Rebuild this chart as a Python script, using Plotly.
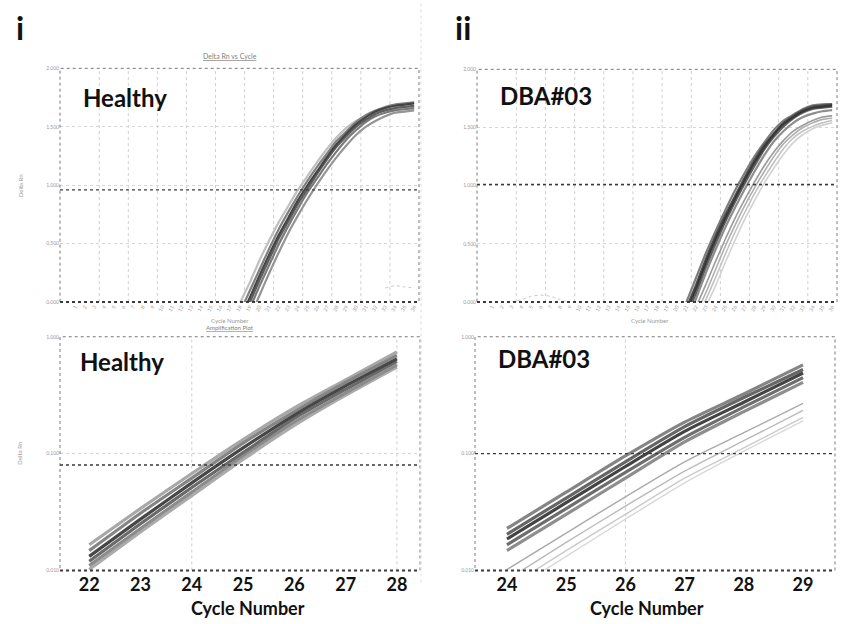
import plotly.graph_objects as go

W, H = 846, 624
FONT = "Lato"

# ---------------- top row: linear Delta Rn vs cycle ----------------
cycle_ticks = list(range(1, 37))

# Healthy, replicate wells (cycles 17..36)
healthy_lin_cycles = list(range(17, 37))
healthy_lin_1 = [-0.18, -0.01, 0.16, 0.35, 0.52, 0.68, 0.82, 0.96, 1.08, 1.20, 1.31, 1.41, 1.49, 1.55, 1.59, 1.62, 1.64, 1.65, 1.66, 1.66]
healthy_lin_2 = [-0.25, -0.09, 0.09, 0.27, 0.45, 0.62, 0.77, 0.91, 1.04, 1.16, 1.27, 1.38, 1.46, 1.54, 1.60, 1.64, 1.67, 1.69, 1.70, 1.71]
healthy_lin_3 = [-0.30, -0.14, 0.03, 0.22, 0.40, 0.57, 0.72, 0.87, 1.00, 1.12, 1.24, 1.35, 1.44, 1.52, 1.58, 1.63, 1.66, 1.68, 1.69, 1.70]
healthy_lin_4 = [-0.33, -0.17, -0.01, 0.18, 0.36, 0.54, 0.69, 0.84, 0.97, 1.10, 1.22, 1.33, 1.42, 1.50, 1.56, 1.61, 1.64, 1.66, 1.67, 1.68]
healthy_lin_5 = [-0.38, -0.22, -0.06, 0.13, 0.31, 0.49, 0.65, 0.80, 0.94, 1.06, 1.18, 1.29, 1.39, 1.47, 1.54, 1.59, 1.62, 1.64, 1.65, 1.66]
healthy_lin_6 = [-0.45, -0.30, -0.14, 0.05, 0.24, 0.42, 0.59, 0.74, 0.88, 1.01, 1.13, 1.24, 1.34, 1.43, 1.50, 1.55, 1.59, 1.62, 1.63, 1.64]
healthy_ntc_cycles = [33, 34, 35, 36]
healthy_ntc = [0.12, 0.14, 0.13, 0.12]
healthy_lin_threshold = 0.96

# DBA#03, main group (cycles 19..36) and late group (cycles 20..36)
dba_main_cycles = list(range(19, 37))
dba_main_1 = [-0.38, -0.19, 0.00, 0.21, 0.42, 0.61, 0.79, 0.96, 1.11, 1.25, 1.37, 1.48, 1.56, 1.61, 1.66, 1.69, 1.70, 1.70]
dba_main_2 = [-0.42, -0.24, -0.05, 0.15, 0.37, 0.57, 0.75, 0.91, 1.07, 1.22, 1.35, 1.45, 1.54, 1.60, 1.65, 1.68, 1.69, 1.70]
dba_main_3 = [-0.45, -0.27, -0.08, 0.12, 0.34, 0.54, 0.72, 0.89, 1.05, 1.20, 1.33, 1.44, 1.53, 1.59, 1.64, 1.67, 1.68, 1.69]
dba_main_4 = [-0.49, -0.31, -0.12, 0.08, 0.30, 0.50, 0.69, 0.86, 1.02, 1.17, 1.31, 1.42, 1.51, 1.58, 1.63, 1.66, 1.67, 1.68]
dba_main_5 = [-0.53, -0.35, -0.17, 0.03, 0.25, 0.45, 0.64, 0.81, 0.97, 1.12, 1.26, 1.38, 1.47, 1.54, 1.59, 1.62, 1.64, 1.65]
dba_late_cycles = list(range(20, 37))
dba_late_1 = [-0.39, -0.22, -0.04, 0.15, 0.35, 0.54, 0.72, 0.88, 1.03, 1.17, 1.29, 1.39, 1.47, 1.52, 1.56, 1.59, 1.60]
dba_late_2 = [-0.45, -0.28, -0.10, 0.08, 0.28, 0.48, 0.66, 0.83, 0.98, 1.12, 1.25, 1.36, 1.44, 1.50, 1.54, 1.57, 1.58]
dba_late_3 = [-0.51, -0.34, -0.16, 0.02, 0.21, 0.41, 0.60, 0.77, 0.93, 1.07, 1.20, 1.32, 1.41, 1.47, 1.51, 1.54, 1.56]
dba_late_4 = [-0.57, -0.40, -0.22, -0.04, 0.14, 0.34, 0.53, 0.71, 0.87, 1.02, 1.15, 1.27, 1.37, 1.44, 1.49, 1.52, 1.54]
dba_ntc_cycles = [3, 4, 5, 6, 7, 8, 9]
dba_ntc = [0.00, 0.02, 0.05, 0.06, 0.05, 0.02, 0.00]
dba_lin_threshold = 1.01

lin_grid_cycles = [3.5, 6.5, 9.5, 12.5, 15.5, 18.5, 21.5, 24.5, 27.5, 30.5, 33.5]

# ---------------- bottom row: log Delta Rn, zoomed on Ct ----------------
healthy_log_cycles = [22, 23, 24, 25, 26, 27, 28]
healthy_log_1 = [0.0166, 0.0339, 0.0676, 0.132, 0.246, 0.427, 0.741]
healthy_log_2 = [0.0148, 0.0309, 0.0617, 0.123, 0.229, 0.407, 0.692]
healthy_log_3 = [0.0132, 0.0275, 0.0562, 0.112, 0.214, 0.380, 0.646]
healthy_log_4 = [0.0120, 0.0251, 0.0513, 0.102, 0.200, 0.355, 0.617]
healthy_log_5 = [0.0110, 0.0229, 0.0468, 0.0955, 0.186, 0.331, 0.575]
healthy_log_6 = [0.0102, 0.0214, 0.0437, 0.0891, 0.174, 0.316, 0.550]
healthy_log_threshold = 0.080
healthy_log_grid = [24, 28]

dba_log_cycles = [24, 25, 26, 27, 28, 29]
dba_log_main_1 = [0.0229, 0.0468, 0.0955, 0.186, 0.324, 0.575]
dba_log_main_2 = [0.0204, 0.0417, 0.0851, 0.170, 0.302, 0.525]
dba_log_main_3 = [0.0186, 0.0380, 0.0776, 0.155, 0.275, 0.490]
dba_log_main_4 = [0.0166, 0.0339, 0.0692, 0.138, 0.251, 0.447]
dba_log_main_5 = [0.0148, 0.0302, 0.0617, 0.126, 0.229, 0.407]
dba_log_late_1 = [0.0102, 0.0209, 0.0427, 0.0851, 0.151, 0.269]
dba_log_late_2 = [0.00832, 0.0174, 0.0355, 0.0708, 0.129, 0.234]
dba_log_late_3 = [0.00708, 0.0148, 0.0302, 0.0617, 0.112, 0.204]
dba_log_late_4 = [0.00631, 0.0132, 0.0275, 0.0562, 0.105, 0.191]
dba_log_threshold = 0.10
dba_log_grid = [26]


def px(x):
    return x / W


def py(y):
    return 1 - y / H


fig = go.Figure()


def add_lines(xs, series, colors, xa, ya, width=1.3, dash="solid", shape="spline"):
    for ys, c in zip(series, colors):
        fig.add_trace(go.Scatter(
            x=xs, y=ys, mode="lines", xaxis=xa, yaxis=ya,
            line=dict(color=c, width=width, dash=dash, shape=shape, smoothing=0.6),
            hoverinfo="skip", showlegend=False,
        ))


# top-left: Healthy
add_lines(healthy_lin_cycles,
          [healthy_lin_1, healthy_lin_6, healthy_lin_5, healthy_lin_2, healthy_lin_4, healthy_lin_3],
          ["#c0c0c0", "#959595", "#7a7a7a", "#808080", "#5e5e5e", "#444444"], "x", "y", width=2.2)
add_lines(healthy_ntc_cycles, [healthy_ntc], ["#c8c8c8"], "x", "y", width=1, dash="dot")

# top-right: DBA#03
add_lines(dba_late_cycles, [dba_late_4, dba_late_3, dba_late_2, dba_late_1],
          ["#d2d2d2", "#c2c2c2", "#afafaf", "#9c9c9c"], "x2", "y2", width=1.6)
add_lines(dba_main_cycles, [dba_main_5, dba_main_1, dba_main_4, dba_main_2, dba_main_3],
          ["#8e8e8e", "#7e7e7e", "#606060", "#525252", "#383838"], "x2", "y2", width=2.2)
add_lines(dba_ntc_cycles, [dba_ntc], ["#c8c8c8"], "x2", "y2", width=1, dash="dot")

# bottom-left: Healthy, log scale
add_lines(healthy_log_cycles,
          [healthy_log_1, healthy_log_6, healthy_log_2, healthy_log_5, healthy_log_4, healthy_log_3],
          ["#a8a8a8", "#ababab", "#858585", "#8c8c8c", "#6a6a6a", "#474747"], "x3", "y3", width=3.2)

# bottom-right: DBA#03, log scale
add_lines(dba_log_cycles, [dba_log_late_4, dba_log_late_3, dba_log_late_2, dba_log_late_1],
          ["#d8d8d8", "#cacaca", "#bababa", "#aaaaaa"], "x4", "y4", width=1.4)
add_lines(dba_log_cycles, [dba_log_main_1, dba_log_main_5, dba_log_main_2, dba_log_main_4, dba_log_main_3],
          ["#858585", "#8e8e8e", "#666666", "#6e6e6e", "#444444"], "x4", "y4", width=3.2)

tiny = dict(family=FONT, size=5, color="#9a9a9a")
big_tick = dict(family=FONT, size=18, color="#111111", weight="bold")

grid_style = dict(showgrid=True, gridcolor="#d6d6d6", griddash="dot", gridwidth=1)
common_x = dict(zeroline=False, showline=False, ticks="", showgrid=False)

fig.update_layout(
    width=W, height=H,
    margin=dict(l=0, r=0, t=0, b=0),
    paper_bgcolor="white", plot_bgcolor="white",
    font=dict(family=FONT),
    showlegend=False,
    xaxis=dict(domain=[px(60), px(419)], anchor="y", range=[-0.55, 36.5],
               tickvals=cycle_ticks, tickfont=tiny, tickangle=-60, **common_x),
    yaxis=dict(domain=[py(302), py(66)], anchor="x", range=[0, 2], dtick=0.5,
               tickformat=".3f", tickfont=tiny, zeroline=False, ticks="", **grid_style),
    xaxis2=dict(domain=[px(477), px(837)], anchor="y2", range=[-0.55, 36.5],
                tickvals=cycle_ticks, tickfont=tiny, tickangle=-60, **common_x),
    yaxis2=dict(domain=[py(302), py(67)], anchor="x2", range=[0, 2], dtick=0.5,
                tickformat=".3f", tickfont=tiny, zeroline=False, ticks="", **grid_style),
    xaxis3=dict(domain=[px(60), px(420)], anchor="y3", range=[21.43, 28.45],
                tickvals=healthy_log_cycles, tickfont=big_tick, ticklabelstandoff=2, **common_x),
    yaxis3=dict(domain=[py(573), py(337)], anchor="x3", type="log", range=[-2, 0],
                tickvals=[0.01, 0.1, 1], ticktext=["0.010", "0.100", "1.000"],
                tickfont=tiny, zeroline=False, ticks="", **grid_style),
    xaxis4=dict(domain=[px(475), px(835)], anchor="y4", range=[23.46, 29.54],
                tickvals=dba_log_cycles, tickfont=big_tick, ticklabelstandoff=2, **common_x),
    yaxis4=dict(domain=[py(573), py(337)], anchor="x4", type="log", range=[-2, 0],
                tickvals=[0.01, 0.1, 1], ticktext=["0.010", "0.100", "1.000"],
                tickfont=tiny, zeroline=False, ticks="", **grid_style),
)

shapes = []
panels = [("x", "y", healthy_lin_threshold, lin_grid_cycles),
          ("x2", "y2", dba_lin_threshold, lin_grid_cycles),
          ("x3", "y3", healthy_log_threshold, healthy_log_grid),
          ("x4", "y4", dba_log_threshold, dba_log_grid)]
for xa, ya, thr, vgrid in panels:
    # faint vertical guides
    for c in vgrid:
        shapes.append(dict(type="line", xref=xa, yref=f"{ya} domain", x0=c, x1=c, y0=0, y1=1,
                           line=dict(color="#cfcfcf", width=1, dash="dot"), layer="below"))
    # dotted frame
    shapes.append(dict(type="rect", xref=f"{xa} domain", yref=f"{ya} domain", x0=0, x1=1, y0=0, y1=1,
                       line=dict(color="#7a7a7a", width=1, dash="dot"), layer="above"))
    # heavier baseline
    shapes.append(dict(type="line", xref=f"{xa} domain", yref=f"{ya} domain", x0=0, x1=1, y0=0, y1=0,
                       line=dict(color="#3a3a3a", width=2, dash="dot"), layer="above"))
    # threshold
    shapes.append(dict(type="line", xref=f"{xa} domain", yref=ya, x0=0, x1=1, y0=thr, y1=thr,
                       line=dict(color="#3a3a3a", width=1.4, dash="dot"), layer="above"))

# column separator
shapes.append(dict(type="line", xref="paper", yref="paper", x0=px(421), x1=px(421), y0=py(585), y1=py(0),
                   line=dict(color="#dddddd", width=1, dash="dot")))
fig.update_layout(shapes=shapes)

ann = []


def label(text, x, y, size, xanchor="left", color="#111111", bold=True, angle=0):
    ann.append(dict(text=f"<b>{text}</b>" if bold else text, x=px(x), y=py(y),
                    xref="paper", yref="paper", xanchor=xanchor, yanchor="middle",
                    showarrow=False, textangle=angle,
                    font=dict(family=FONT, size=size, color=color)))


label("i", 20, 25, 32, xanchor="center")
label("ii", 463, 25, 32, xanchor="center")
label("Healthy", 81, 95, 24)
label("DBA#03", 498, 93, 24)
label("Healthy", 78, 362, 24)
label("DBA#03", 496, 359, 24)
label("Cycle Number", 248, 611, 18, xanchor="center")
label("Cycle Number", 647, 611, 18, xanchor="center")

# small software captions
label("<u>Delta Rn vs Cycle</u>", 230, 54, 7, xanchor="center", color="#808080", bold=False)
label("Cycle Number", 230, 321, 6, xanchor="center", color="#9a9a9a", bold=False)
label("<u>Amplification Plot</u>", 230, 328, 6, xanchor="center", color="#808080", bold=False)
label("Cycle Number", 650, 321, 6, xanchor="center", color="#9a9a9a", bold=False)
label("Delta Rn", 20, 185, 6, xanchor="center", color="#9a9a9a", bold=False, angle=-90)
label("Delta Rn", 20, 455, 6, xanchor="center", color="#9a9a9a", bold=False, angle=-90)

fig.update_layout(annotations=ann)

fig.write_html("out.html")
